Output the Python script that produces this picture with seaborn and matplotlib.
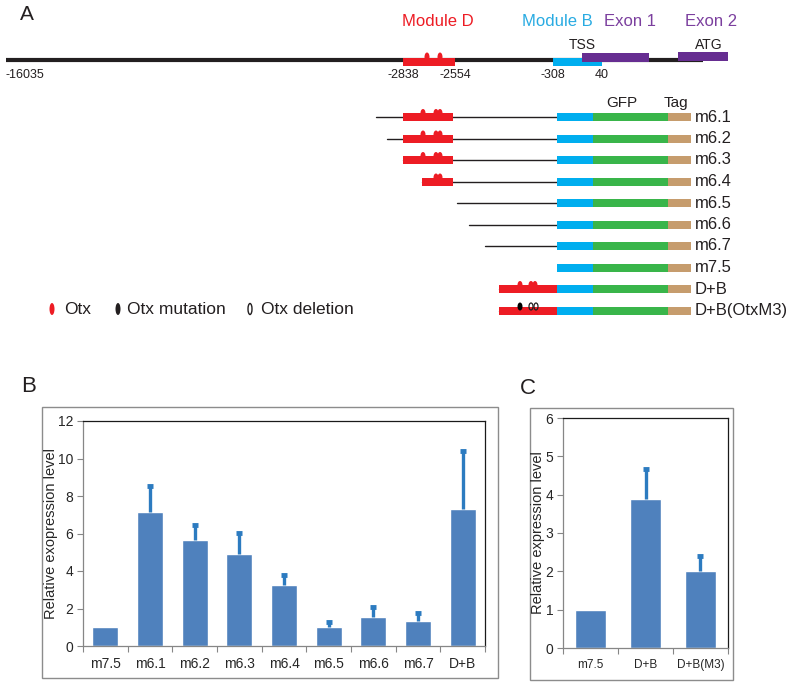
import numpy as np
import pandas as pd
import seaborn as sns
import matplotlib.pyplot as plt
from matplotlib.patches import Rectangle, Ellipse

# expression data (panel B)
b_names = ['m7.5', 'm6.1', 'm6.2', 'm6.3', 'm6.4', 'm6.5', 'm6.6', 'm6.7', 'D+B']
b_means = [1.0, 7.15, 5.67, 4.92, 3.27, 1.0, 1.56, 1.33, 7.33]
b_err = [0.0, 1.38, 0.77, 1.1, 0.54, 0.27, 0.5, 0.42, 3.05]

# expression data (panel C)
c_names = ['m7.5', 'D+B', 'D+B(M3)']
c_means = [1.0, 3.9, 2.02]
c_err = [0.0, 0.76, 0.37]

# schematic of the locus (panel A), in drawing units
map_ticks = ['-16035', '-2838', '-2554', '-308', '40']
map_tick_x = [5, 403, 455, 553, 602]
map_otx = [427, 440]

# reporter constructs (panel A)
construct_names = ['m6.1', 'm6.2', 'm6.3', 'm6.4', 'm6.5', 'm6.6', 'm6.7',
                   'm7.5', 'D+B', 'D+B(OtxM3)']
construct_start = [376, 387, 403, 422, 457, 469, 485, 557, 499, 499]
red_start = [403, 403, 403, 422, None, None, None, None, 499, 499]
red_end = [453, 453, 453, 453, None, None, None, None, 557, 557]
otx_sites = [[423, 436, 440], [423, 436, 440], [423, 436, 440], [436, 440],
             [], [], [], [], [520, 531, 535], []]
otx_mut = [[], [], [], [], [], [], [], [], [], [520]]
otx_del = [[], [], [], [], [], [], [], [], [], [531, 536]]

RED = '#ED1C24'
CYAN = '#00AEEF'
PURPLE = '#662D91'
GREEN = '#39B54A'
TAN = '#C69C6D'
DARK = '#231F20'
BAR = '#4F81BD'
ERR = '#2C7BC0'

sns.set_theme(style='ticks')
plt.rcParams['font.family'] = ['Liberation Sans', 'DejaVu Sans']

fig = plt.figure(figsize=(8, 6.86), dpi=100)

# ---------- panel A (drawing canvas covering whole figure)
ax0 = fig.add_axes([0, 0, 1, 1])
ax0.set_xlim(0, 800)
ax0.set_ylim(686, 0)
ax0.axis('off')

ax0.text(20, 15, 'A', fontsize=15, color=DARK, va='center')
ax0.text(21, 387, 'B', fontsize=16, color=DARK, va='center')
ax0.text(520, 389, 'C', fontsize=16, color=DARK, va='center')

# locus line
ax0.plot([6, 703], [60, 60], color=DARK, lw=3, solid_capstyle='butt', zorder=0.5)
ax0.add_patch(Rectangle((403, 58), 52, 8, color=RED, lw=0))
for x in map_otx:
    ax0.add_patch(Ellipse((x, 57), 5, 9, color=RED, lw=0))
ax0.add_patch(Rectangle((553, 58), 49, 8, color=CYAN, lw=0))
ax0.add_patch(Rectangle((582, 53), 67, 9, color=PURPLE, lw=0))
ax0.add_patch(Rectangle((678, 52), 50, 9, color=PURPLE, lw=0))

ax0.text(438, 22, 'Module D', color=RED, fontsize=12, ha='center', va='center')
ax0.text(557, 22, 'Module B', color='#29ABE2', fontsize=12, ha='center', va='center')
ax0.text(630, 22, 'Exon 1', color='#7B3F9E', fontsize=12, ha='center', va='center')
ax0.text(711, 22, 'Exon 2', color='#7B3F9E', fontsize=12, ha='center', va='center')
ax0.text(582, 45, 'TSS', color=DARK, fontsize=10, ha='center', va='center')
ax0.text(709, 45, 'ATG', color=DARK, fontsize=10, ha='center', va='center')
for lab, x in zip(map_ticks, map_tick_x):
    ax0.text(x, 75, lab, color=DARK, fontsize=9,
             ha='left' if lab == '-16035' else 'center', va='center')

# constructs
ax0.text(622, 103, 'GFP', color=DARK, fontsize=11, ha='center', va='center')
ax0.text(676, 103, 'Tag', color=DARK, fontsize=11, ha='center', va='center')
for i, name in enumerate(construct_names):
    y = 117 + 21.5 * i
    ax0.plot([construct_start[i], 557], [y, y], color=DARK, lw=1, zorder=0.5)
    if red_start[i] is not None:
        ax0.add_patch(Rectangle((red_start[i], y - 4), red_end[i] - red_start[i], 8,
                                color=RED, lw=0))
    for x in otx_sites[i]:
        ax0.add_patch(Ellipse((x, y - 4), 5, 8, color=RED, lw=0))
    for x in otx_mut[i]:
        ax0.add_patch(Ellipse((x, y - 4), 5, 8, color='black', lw=0))
    for x in otx_del[i]:
        ax0.add_patch(Ellipse((x, y - 4), 4, 7, facecolor='none', edgecolor=DARK, lw=0.9))
    ax0.add_patch(Rectangle((557, y - 4), 36, 8, color=CYAN, lw=0))
    ax0.add_patch(Rectangle((593, y - 4), 75, 8, color=GREEN, lw=0))
    ax0.add_patch(Rectangle((668, y - 4), 23, 8, color=TAN, lw=0))
    ax0.text(695, y, name, color=DARK, fontsize=12, va='center')

# legend
ax0.add_patch(Ellipse((52, 309), 5, 12, color=RED, lw=0))
ax0.text(64, 309, 'Otx', color=DARK, fontsize=12.5, va='center')
ax0.add_patch(Ellipse((118, 309), 5, 12, color=DARK, lw=0))
ax0.text(127, 309, 'Otx mutation', color=DARK, fontsize=12.5, va='center')
ax0.add_patch(Ellipse((250, 309), 4, 11, facecolor='none', edgecolor=DARK, lw=1))
ax0.text(261, 309, 'Otx deletion', color=DARK, fontsize=12.5, va='center')

# frames around B and C
ax0.add_patch(Rectangle((42, 407), 456, 271, facecolor='none', edgecolor='#8C8C8C', lw=1))
ax0.add_patch(Rectangle((530, 408), 203, 272, facecolor='none', edgecolor='#8C8C8C', lw=1))


def bar_panel(ax, names, means, err, ymax, step, ylabel, xlab_size, label_x, label_size):
    df = pd.DataFrame({'construct': names, 'level': means})
    sns.barplot(data=df, x='construct', y='level', color=BAR, saturation=1,
                width=0.58, errorbar=None, ax=ax, zorder=2)
    # upper error bars only
    e = np.array(err)
    m = np.array(means)
    idx = np.where(e > 0)[0]
    ax.vlines(idx, m[idx], m[idx] + e[idx], color=ERR, lw=2.4, zorder=3)
    ax.plot(idx, m[idx] + e[idx], ls='none', marker='_', ms=5, mew=3.5,
            color=ERR, zorder=3)
    ax.set_ylim(0, ymax)
    ax.set_yticks(np.arange(0, ymax + 0.1, step))
    ax.set_xlim(-0.5, len(names) - 0.5)
    ax.set_xlabel('')
    ax.set_ylabel(ylabel, fontsize=label_size, color='#262626')
    ax.yaxis.set_label_coords(label_x, 0.5)
    ax.set_xticks(np.arange(-0.5, len(names), 1), minor=True)
    ax.tick_params(axis='y', left=True, length=4, width=0.8, color='#868686',
                   labelsize=10, labelcolor='#262626', pad=3)
    ax.tick_params(axis='x', which='major', bottom=True, length=0,
                   labelsize=xlab_size, labelcolor='#262626', pad=8)
    ax.tick_params(axis='x', which='minor', bottom=True, length=4, width=0.8,
                   color='#868686')
    for s in ['left', 'bottom']:
        ax.spines[s].set_color('#868686')
        ax.spines[s].set_linewidth(0.9)
    for s in ['top', 'right']:
        ax.spines[s].set_visible(True)
        ax.spines[s].set_color('#1a1a1a')
        ax.spines[s].set_linewidth(0.9)


axb = fig.add_axes([83 / 800, 1 - 646 / 686, 402 / 800, 225 / 686])
bar_panel(axb, b_names, b_means, b_err, 12, 2, 'Relative exopression level', 10,
          -0.061, 10.5)

axc = fig.add_axes([563 / 800, 1 - 648 / 686, 165 / 800, 230 / 686])
bar_panel(axc, c_names, c_means, c_err, 6, 1, 'Relative expression level', 8.5,
          -0.112, 10.5)

fig.savefig('out.png', dpi=100)
